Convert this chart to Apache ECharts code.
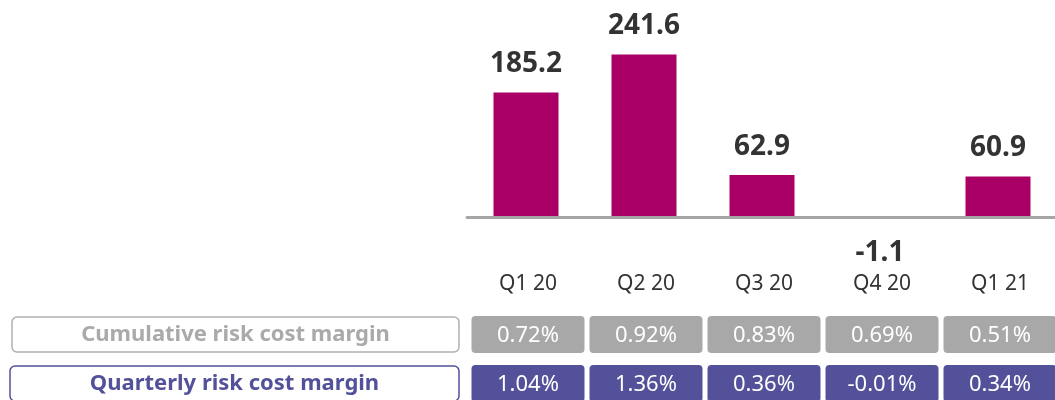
<!DOCTYPE html>
<html>
<head>
<meta charset="utf-8">
<script src="https://cdn.jsdelivr.net/npm/echarts@6/dist/echarts.min.js"></script>
<style>
  html, body { margin: 0; padding: 0; background: #ffffff; }
  #chart { width: 1055px; height: 400px; }
</style>
</head>
<body>
<div id="chart"></div>
<script>
"use strict";

// Quarterly risk costs (bars) and the two margin rows below them.
const quarters = ["Q1 20", "Q2 20", "Q3 20", "Q4 20", "Q1 21"];
const riskCosts = [185.2, 241.6, 62.9, -1.1, 60.9];
const rowLabels = ["Cumulative risk cost margin", "Quarterly risk cost margin"];
const cumulativeMargin = ["0.72%", "0.92%", "0.83%", "0.69%", "0.51%"];
const quarterlyMargin = ["1.04%", "1.36%", "0.36%", "-0.01%", "0.34%"];

const FONT = "'Noto Sans', sans-serif";
const BAR_COLOR = "#aa0066";
const GREY = "#a8a8a8";
const PURPLE = "#525199";
const TEXT = "#333333";
const ROW_FILLS = [GREY, PURPLE];

// One cell per quarter per margin row, placed on the table grid's category axes.
const tableCells = [];
[cumulativeMargin, quarterlyMargin].forEach((row, r) => {
  row.forEach((txt, c) => tableCells.push([c, r, txt]));
});

function renderCell(params, api) {
  const p = api.coord([api.value(0), api.value(1)]);
  const w = api.size([1, 0])[0] - 5;
  const h = 37;
  const fill = ROW_FILLS[api.value(1)];
  return {
    type: "group",
    children: [
      {
        type: "rect",
        shape: { x: p[0] - w / 2, y: p[1] - h / 2, width: w, height: h, r: 4 },
        style: { fill: fill },
      },
      {
        type: "text",
        style: {
          text: tableCells[params.dataIndex][2],
          x: p[0],
          y: p[1] + 1,
          align: "center",
          verticalAlign: "middle",
          fill: "#ffffff",
          fontSize: 22,
          fontFamily: FONT,
        },
      },
    ],
  };
}

const chart = echarts.init(document.getElementById("chart"), null, { renderer: "canvas" });

chart.setOption({
  animation: false,
  backgroundColor: "#ffffff",
  textStyle: { fontFamily: FONT },
  // outerBoundsMode "none": keep the grids exactly where they are placed
  // instead of letting v6 shrink them to fit the axis labels.
  grid: [
    { left: 467, right: -2, top: 15, height: 270, outerBoundsMode: "none" },
    { left: 469, right: -4, top: 310, height: 98, outerBoundsMode: "none" },
  ],
  xAxis: [
    {
      type: "category",
      gridIndex: 0,
      data: quarters,
      z: 5,
      axisLine: { onZero: true, lineStyle: { color: "#a6a6a6", width: 3 } },
      axisTick: { show: false },
      axisLabel: { show: false },
    },
    {
      type: "category",
      gridIndex: 1,
      position: "top",
      data: quarters,
      axisLine: { show: false },
      axisTick: { show: false },
      axisLabel: { color: TEXT, fontSize: 21, fontFamily: FONT, margin: 15 },
    },
  ],
  yAxis: [
    {
      type: "value",
      gridIndex: 0,
      min: -100,
      max: 300,
      show: false,
    },
    {
      type: "category",
      gridIndex: 1,
      inverse: true,
      data: rowLabels,
      axisLine: { show: false },
      axisTick: { show: false },
      axisLabel: {
        margin: 10,
        formatter: (v, i) => (i === 0 ? "{cum|" + v + "}" : "{qtr|" + v + "}"),
        rich: {
          cum: {
            width: 447,
            height: 35,
            lineHeight: 35,
            align: "center",
            color: "#aaaaaa",
            fontWeight: "bold",
            fontSize: 22,
            fontFamily: FONT,
            borderColor: "#b0b0b0",
            borderWidth: 1.5,
            borderRadius: 5,
          },
          qtr: {
            width: 449,
            height: 35,
            lineHeight: 35,
            align: "center",
            color: PURPLE,
            fontWeight: "bold",
            fontSize: 22,
            fontFamily: FONT,
            borderColor: PURPLE,
            borderWidth: 1.5,
            borderRadius: 5,
          },
        },
      },
    },
  ],
  series: [
    {
      type: "bar",
      xAxisIndex: 0,
      yAxisIndex: 0,
      barWidth: 65,
      itemStyle: { color: BAR_COLOR },
      label: {
        show: true,
        color: TEXT,
        fontSize: 28,
        fontWeight: "bold",
        fontFamily: FONT,
      },
      data: riskCosts.map((v) => ({
        value: v,
        label: v < 0 ? { position: "bottom", distance: 21 } : { position: "top", distance: 14 },
      })),
      z: 2,
    },
    {
      type: "custom",
      xAxisIndex: 1,
      yAxisIndex: 1,
      renderItem: renderCell,
      data: tableCells,
    },
  ],
});
</script>
</body>
</html>
